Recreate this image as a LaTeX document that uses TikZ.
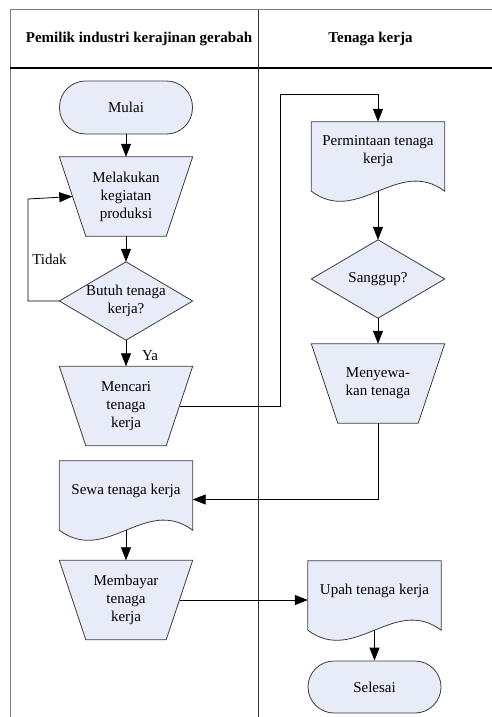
\documentclass[tikz,border=0pt]{standalone}
\usepackage{fontspec}
\setmainfont{Liberation Serif}
\usetikzlibrary{arrows.meta,calc,backgrounds}
\definecolor{shpfill}{RGB}{232,236,248}
\definecolor{shpline}{RGB}{60,60,60}
\definecolor{frameg}{RGB}{128,128,128}
\newcommand\mydocpath[1]{\filldraw[shp] (#1.north west) -- (#1.north east) -- ($(#1.south east)+(0,10)$) .. controls ($(#1.south east)+(-47,-25)$) and ($(#1.south west)+(47,45)$) .. ($(#1.south west)+(0,10)$) -- cycle;}
\newcommand\mytrappath[1]{\filldraw[shp] (#1.north west) -- (#1.north east) -- ($(#1.south east)+(-26.5,0)$) -- ($(#1.south west)+(26.5,0)$) -- cycle;}
\newcommand\mydiapath[1]{\filldraw[shp] (#1.west) -- (#1.north) -- (#1.east) -- (#1.south) -- cycle;}
\begin{document}
\begin{tikzpicture}[x=1pt,y=-1pt,
  txt/.style={font=\fontsize{15}{18}\selectfont, align=center, inner sep=0pt},
  hdr/.style={font=\fontsize{15}{18}\selectfont\bfseries, inner sep=0pt},
  shp/.style={draw=shpline, fill=shpfill, line width=0.8pt},
  trapbox/.style={txt, minimum width=133pt, minimum height=79pt},
  docbox/.style={txt, minimum width=133pt, minimum height=59pt},
  decbox/.style={txt, minimum width=133pt, minimum height=78pt},
  termbox/.style={txt, shp, minimum width=133pt, minimum height=53pt, rounded corners=26pt},
  conn/.style={draw=black, line width=0.8pt, -{Triangle[length=13pt,width=10pt]}},
  line/.style={draw=black, line width=0.8pt}
]
\useasboundingbox (0,0) rectangle (492,717);
% frame
\draw[frameg, line width=1pt] (10,717) -- (10,10) -- (492,10);
\draw[black, line width=1pt] (10,68) -- (492,68);
\draw[black!80, line width=1pt] (258,10) -- (258,717);
\node[hdr] (h1) at (139,39) {Pemilik industri kerajinan gerabah};
\node[hdr] (h2) at (370.5,39) {Tenaga kerja};
% nodes
\node[termbox] (mulai) at (126,107.5) {Mulai};
\node[trapbox] (mel) at (126,196.5) {Melakukan\\kegiatan\\produksi};
\node[decbox] (butuh) at (126,301) {Butuh tenaga\\kerja?};
\node[trapbox] (mencari) at (126,406) {Mencari\\tenaga\\kerja};
\node[docbox] (sewa) at (126,490.5) {Sewa tenaga kerja};
\node[trapbox] (bayar) at (126,600) {Membayar\\tenaga\\kerja};
\node[docbox] (perm) at (378,151.5) {Permintaan tenaga\\kerja};
\node[decbox] (sanggup) at (378,279) {Sanggup?};
\node[trapbox] (menyewa) at (378,383.5) {Menyewa-\\kan tenaga};
\node[docbox] (upah) at (374.5,590.5) {Upah tenaga kerja};
\node[termbox, minimum height=52pt] (selesai) at (374.5,687) {Selesai};
\node[txt] (tidak) at (49.5,259) {Tidak};
\node[txt] (ya) at (150,356) {Ya};
% shapes behind
\begin{scope}[on background layer]
\mytrappath{mel}
\mydiapath{butuh}
\mytrappath{mencari}
\mydocpath{sewa}
\mytrappath{bayar}
\mydocpath{perm}
\mydiapath{sanggup}
\mytrappath{menyewa}
\mydocpath{upah}
\end{scope}
% helper coordinates
\coordinate (melIn) at ($(mel.west)+(13,0)$);
\coordinate (loopc) at (28,199);
\coordinate (mcR) at ($(mencari.east)+(-13,0)$);
\coordinate (bend) at (280,94);
\coordinate (permB) at ($(perm.south)+(0,10)$);
\coordinate (sewaB) at ($(sewa.south)+(0,10)$);
\coordinate (upahB) at ($(upah.south)+(0,10)$);
\coordinate (sewaIn) at ($(sewa.east)+(0,9)$);
\coordinate (byR) at ($(bayar.east)+(-13,0)$);
% connectors
\draw[conn] (mulai) -- (mel);
\draw[conn] (mel) -- (butuh.north);
\draw[conn] (butuh.west) -| (loopc) -- (melIn);
\draw[conn] (butuh.south) -- (mencari);
\draw[conn] (mcR) -| (bend) -| (perm.north);
\draw[conn] (permB) -- (sanggup.north);
\draw[conn] (sanggup.south) -- (menyewa);
\draw[conn] (menyewa.south) |- (sewaIn);
\draw[conn] (sewaB) -- (bayar);
\draw[conn] (byR) -- (byR -| upah.west);
\draw[conn] (upahB) -- (selesai);
\end{tikzpicture}
\end{document}
